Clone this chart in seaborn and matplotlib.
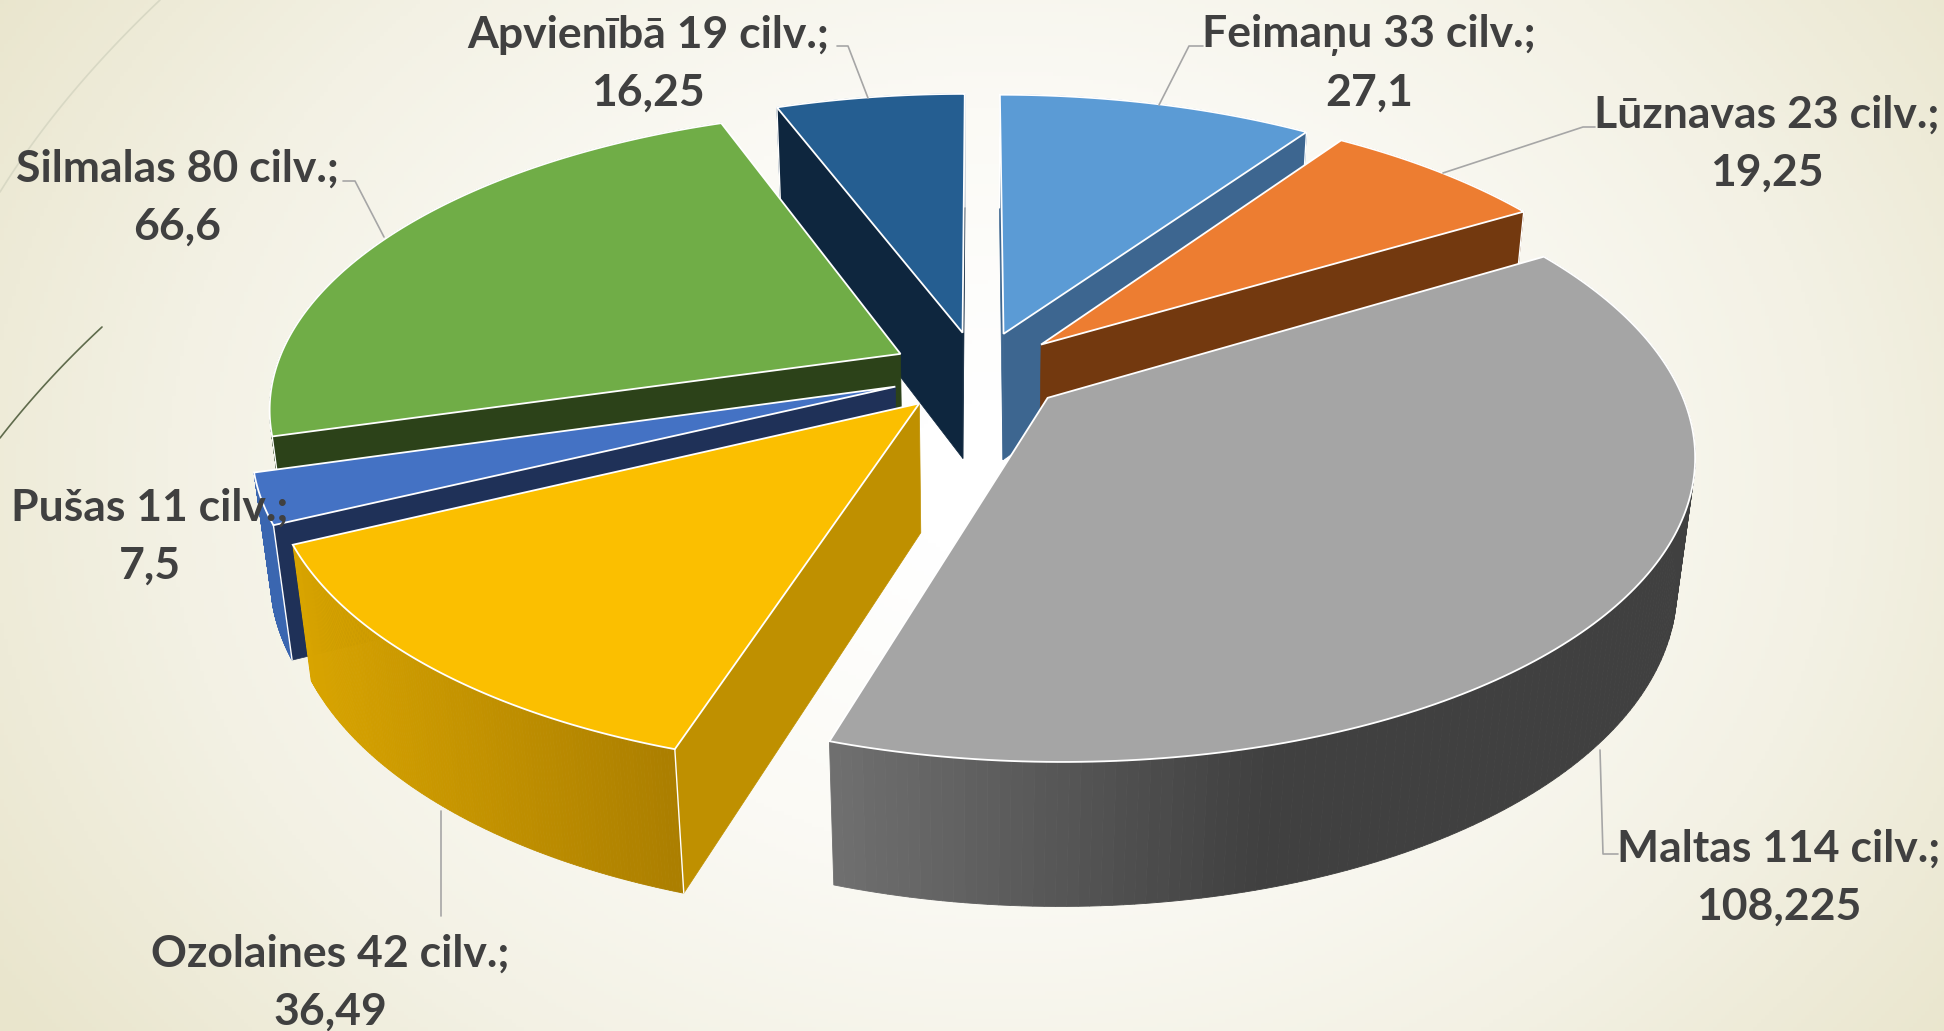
import numpy as np
import matplotlib.pyplot as plt
import seaborn as sns

# Chart data
names = ['Feimaņu', 'Lūznavas', 'Maltas', 'Ozolaines', 'Pušas', 'Silmalas', 'Apvienībā']
people = [33, 23, 114, 42, 11, 80, 19]
values = [27.1, 19.25, 108.225, 36.49, 7.5, 66.6, 16.25]

top_colors = ['#5B9BD5', '#ED7D31', '#A5A5A5', '#FBBF00', '#4472C4', '#70AD47', '#255E91']
face_colors = ['#3D6690', '#73390F', '#5A5A5A', '#BF9000', '#1F3158', '#2C4219', '#0E263E']
wall_colors = [('#3D6690', '#3D6690'), ('#73390F', '#73390F'), ('#707070', '#404040'),
               ('#D8A400', '#AB7E00'), ('#3A66B0', '#3A66B0'), ('#2C4219', '#2C4219'), ('#1E4A73', '#1E4A73')]
wall_fade = [1, 1, 0.5, 1, 1, 1, 1]

sns.set_theme(style='white')
plt.rcParams['font.family'] = ['Lato', 'DejaVu Sans']

# Camera of the 3D pie, in output pixels
CX, CY = 978, 372
A, B, D = 626, 292, 131
K, M = 0.171, 0.025
EXPLODE = 0.14


def project(x, y, z):
    w = 1 + K * y + M * z
    return CX + A * x / w, CY + (-B * y + D * z) / w


def signed_area(px, py):
    return np.sum(np.array(px) * np.roll(py, -1) - np.roll(px, -1) * np.array(py))


fig = plt.figure(figsize=(19.44, 10.31), dpi=100)
ax = fig.add_axes([0, 0, 1, 1])

# Slide background
yy, xx = np.mgrid[0:1031:4, 0:1944:4]
r = np.hypot((xx - 1000) / 1000, (yy - 480) / 800)
bg_cmap = sns.blend_palette(['#FFFFFF', '#FBFAF5', '#F3F1E4', '#E9E5CC'], as_cmap=True)
ax.imshow(r, cmap=bg_cmap, vmin=0.1, vmax=1.2, extent=(0, 1944, 1031, 0), aspect='auto', zorder=0)

# Slide decoration lines
t = np.linspace(0, 1, 30)
ax.plot((1 - t) ** 2 * 160 + 2 * t * (1 - t) * 60, 2 * t * (1 - t) * 95 + t ** 2 * 192,
        color='#D8D8C4', lw=1.2, zorder=1)
ax.plot((1 - t) ** 2 * 102 + 2 * t * (1 - t) * 45, (1 - t) ** 2 * 327 + 2 * t * (1 - t) * 380 + t ** 2 * 438,
        color='#5F6B4C', lw=1.2, zorder=1)

# Slices, back to front
edges = np.concatenate([[0], np.cumsum(values)]) / np.sum(values) * 2 * np.pi
draw_order = [0, 6, 1, 5, 4, 3, 2]

for n, i in enumerate(draw_order):
    z0 = 2 + n
    start, end = edges[i], edges[i + 1]
    mid = (start + end) / 2
    ox, oy = EXPLODE * np.sin(mid), EXPLODE * np.cos(mid)
    th = np.linspace(start, end, 160)
    ax_, ay_ = ox + np.sin(th), oy + np.cos(th)

    # outer wall, shaded strip by strip from left to right
    tx, ty = project(ax_, ay_, 0)
    bx, by = project(ax_, ay_, 1)
    shades = sns.blend_palette(wall_colors[i], 64)
    span = max(bx.max() - bx.min(), 1)
    for j in range(len(th) - 1):
        pos = np.clip((bx[j] - bx.min()) / (span * wall_fade[i]), 0, 1)
        c = shades[int(pos * 63)]
        ax.fill([tx[j], tx[j + 1], bx[j + 1], bx[j]], [ty[j], ty[j + 1], by[j + 1], by[j]],
                color=c, lw=0.6, zorder=z0)

    # cut faces, only the ones turned towards the camera
    for edge, sign in ((start, -1), (end, 1)):
        ex, ey = ox + np.sin(edge), oy + np.cos(edge)
        px, py = zip(project(ox, oy, 0), project(ex, ey, 0), project(ex, ey, 1), project(ox, oy, 1))
        if signed_area(px, py) * sign <= 0:
            continue
        ax.fill(px, py, color=face_colors[i], lw=0.5, zorder=z0 + 0.1)
        ax.plot(px[1:3], py[1:3], color='white', lw=1.0, zorder=z0 + 0.2)

    # top
    cx, cy = project(ox, oy, 0)
    ax.fill(np.r_[cx, tx], np.r_[cy, ty], facecolor=top_colors[i], edgecolor='white',
            lw=1.3, joinstyle='miter', zorder=z0 + 0.3)

# Leader lines
leaders = [
    ([1159, 1189, 1203], [105, 46, 46]),
    ([1443, 1583, 1595], [173, 127, 127]),
    ([1600, 1603, 1618], [750, 854, 854]),
    ([441, 441], [811, 916]),
    ([384, 355, 343], [237, 181, 181]),
    ([868, 848, 837], [98, 46, 46]),
]
for lx, ly in leaders:
    ax.plot(lx, ly, color='#A6A6A6', lw=1.2, zorder=20)

# Labels
label_x = [1369, 1767, 1779, 330, 150, 177, 648]
label_y = [35, 115, 849, 954, 508, 169, 35]
for name, p, v, x, y in zip(names, people, values, label_x, label_y):
    ax.text(x, y, f'{name} {p} cilv.;', ha='center', va='center', fontsize=32,
            fontweight='bold', color='#404040', zorder=30)
    ax.text(x, y + 58, str(v).replace('.', ','), ha='center', va='center', fontsize=32,
            fontweight='bold', color='#404040', zorder=30)

ax.set_xlim(0, 1944)
ax.set_ylim(1031, 0)
ax.axis('off')

plt.savefig('out.png', dpi=100)
plt.close()
